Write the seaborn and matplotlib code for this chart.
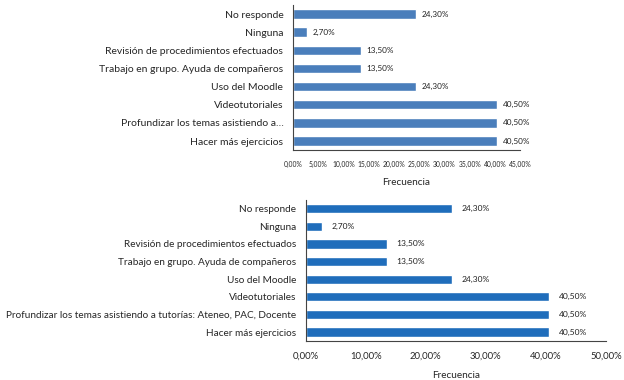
import matplotlib
matplotlib.use("Agg")
import matplotlib.pyplot as plt
import seaborn as sns
import pandas as pd
import numpy as np
from matplotlib.ticker import FuncFormatter, MultipleLocator, FixedLocator

# datos de la encuesta
categorias_corto = ["No responde", "Ninguna", "Revisión de procedimientos efectuados",
                    "Trabajo en grupo. Ayuda de compañeros", "Uso del Moodle",
                    "Videotutoriales", "Profundizar los temas asistiendo a…",
                    "Hacer más ejercicios"]
categorias_largo = ["No responde", "Ninguna", "Revisión de procedimientos efectuados",
                    "Trabajo en grupo. Ayuda de compañeros", "Uso del Moodle",
                    "Videotutoriales",
                    "Profundizar los temas asistiendo a tutorías: Ateneo, PAC, Docente",
                    "Hacer más ejercicios"]
frecuencia = [24.3, 2.7, 13.5, 13.5, 24.3, 40.5, 40.5, 40.5]

sns.set_style("white")
plt.rcParams['font.family'] = ['Lato', 'DejaVu Sans']
plt.rcParams['text.color'] = '#222222'

def pct(v, decimals=2):
    return f"{v:.{decimals}f}".replace(".", ",") + "%"

fig = plt.figure(figsize=(6.24, 3.8), dpi=100)

configs = [
    # (labels, rect, color, xmax, xstep, ticksize, labelsize, valsize, valpad)
    (categorias_corto, [0.4696, 0.605, 0.364, 0.382], "#4a7ebb", 45, 5, 4.9, 7.5, 5.9, 4),
    (categorias_largo, [0.490, 0.103, 0.481, 0.371], "#1f6dbb", 50, 10, 6.8, 7.2, 6.1, 7),
]

for labels, rect, color, xmax, step, tsize, lsize, vsize, vpad in configs:
    ax = fig.add_axes(rect)
    df = pd.DataFrame({"cat": labels, "freq": frecuencia})
    sns.barplot(data=df, x="freq", y="cat", orient="h", color=color,
                saturation=1, width=0.52, ax=ax)
    ax.set_xlim(0, xmax)
    ax.set_ylim(len(labels) - 0.5, -0.5)
    ax.xaxis.set_major_locator(MultipleLocator(step))
    ax.xaxis.set_major_formatter(FuncFormatter(lambda v, p: pct(v)))
    ax.yaxis.set_minor_locator(FixedLocator(np.arange(-0.5, len(labels), 1)))
    ax.tick_params(axis="y", which="major", length=0, labelsize=lsize, pad=7)
    ax.tick_params(axis="y", which="minor", length=3, direction="out", width=0.8)
    ax.tick_params(axis="x", length=3, direction="out", width=0.8, labelsize=tsize, pad=5)
    for s in ["top", "right"]:
        ax.spines[s].set_visible(False)
    for s in ["left", "bottom"]:
        ax.spines[s].set_color("#444444")
        ax.spines[s].set_linewidth(0.8)
    ax.set_ylabel("")
    ax.set_xlabel("Frecuencia", fontsize=7.2, labelpad=7)
    ax.bar_label(ax.containers[0], labels=[pct(v) for v in frecuencia],
                 padding=vpad, fontsize=vsize)

fig.savefig("out.png", dpi=100)
